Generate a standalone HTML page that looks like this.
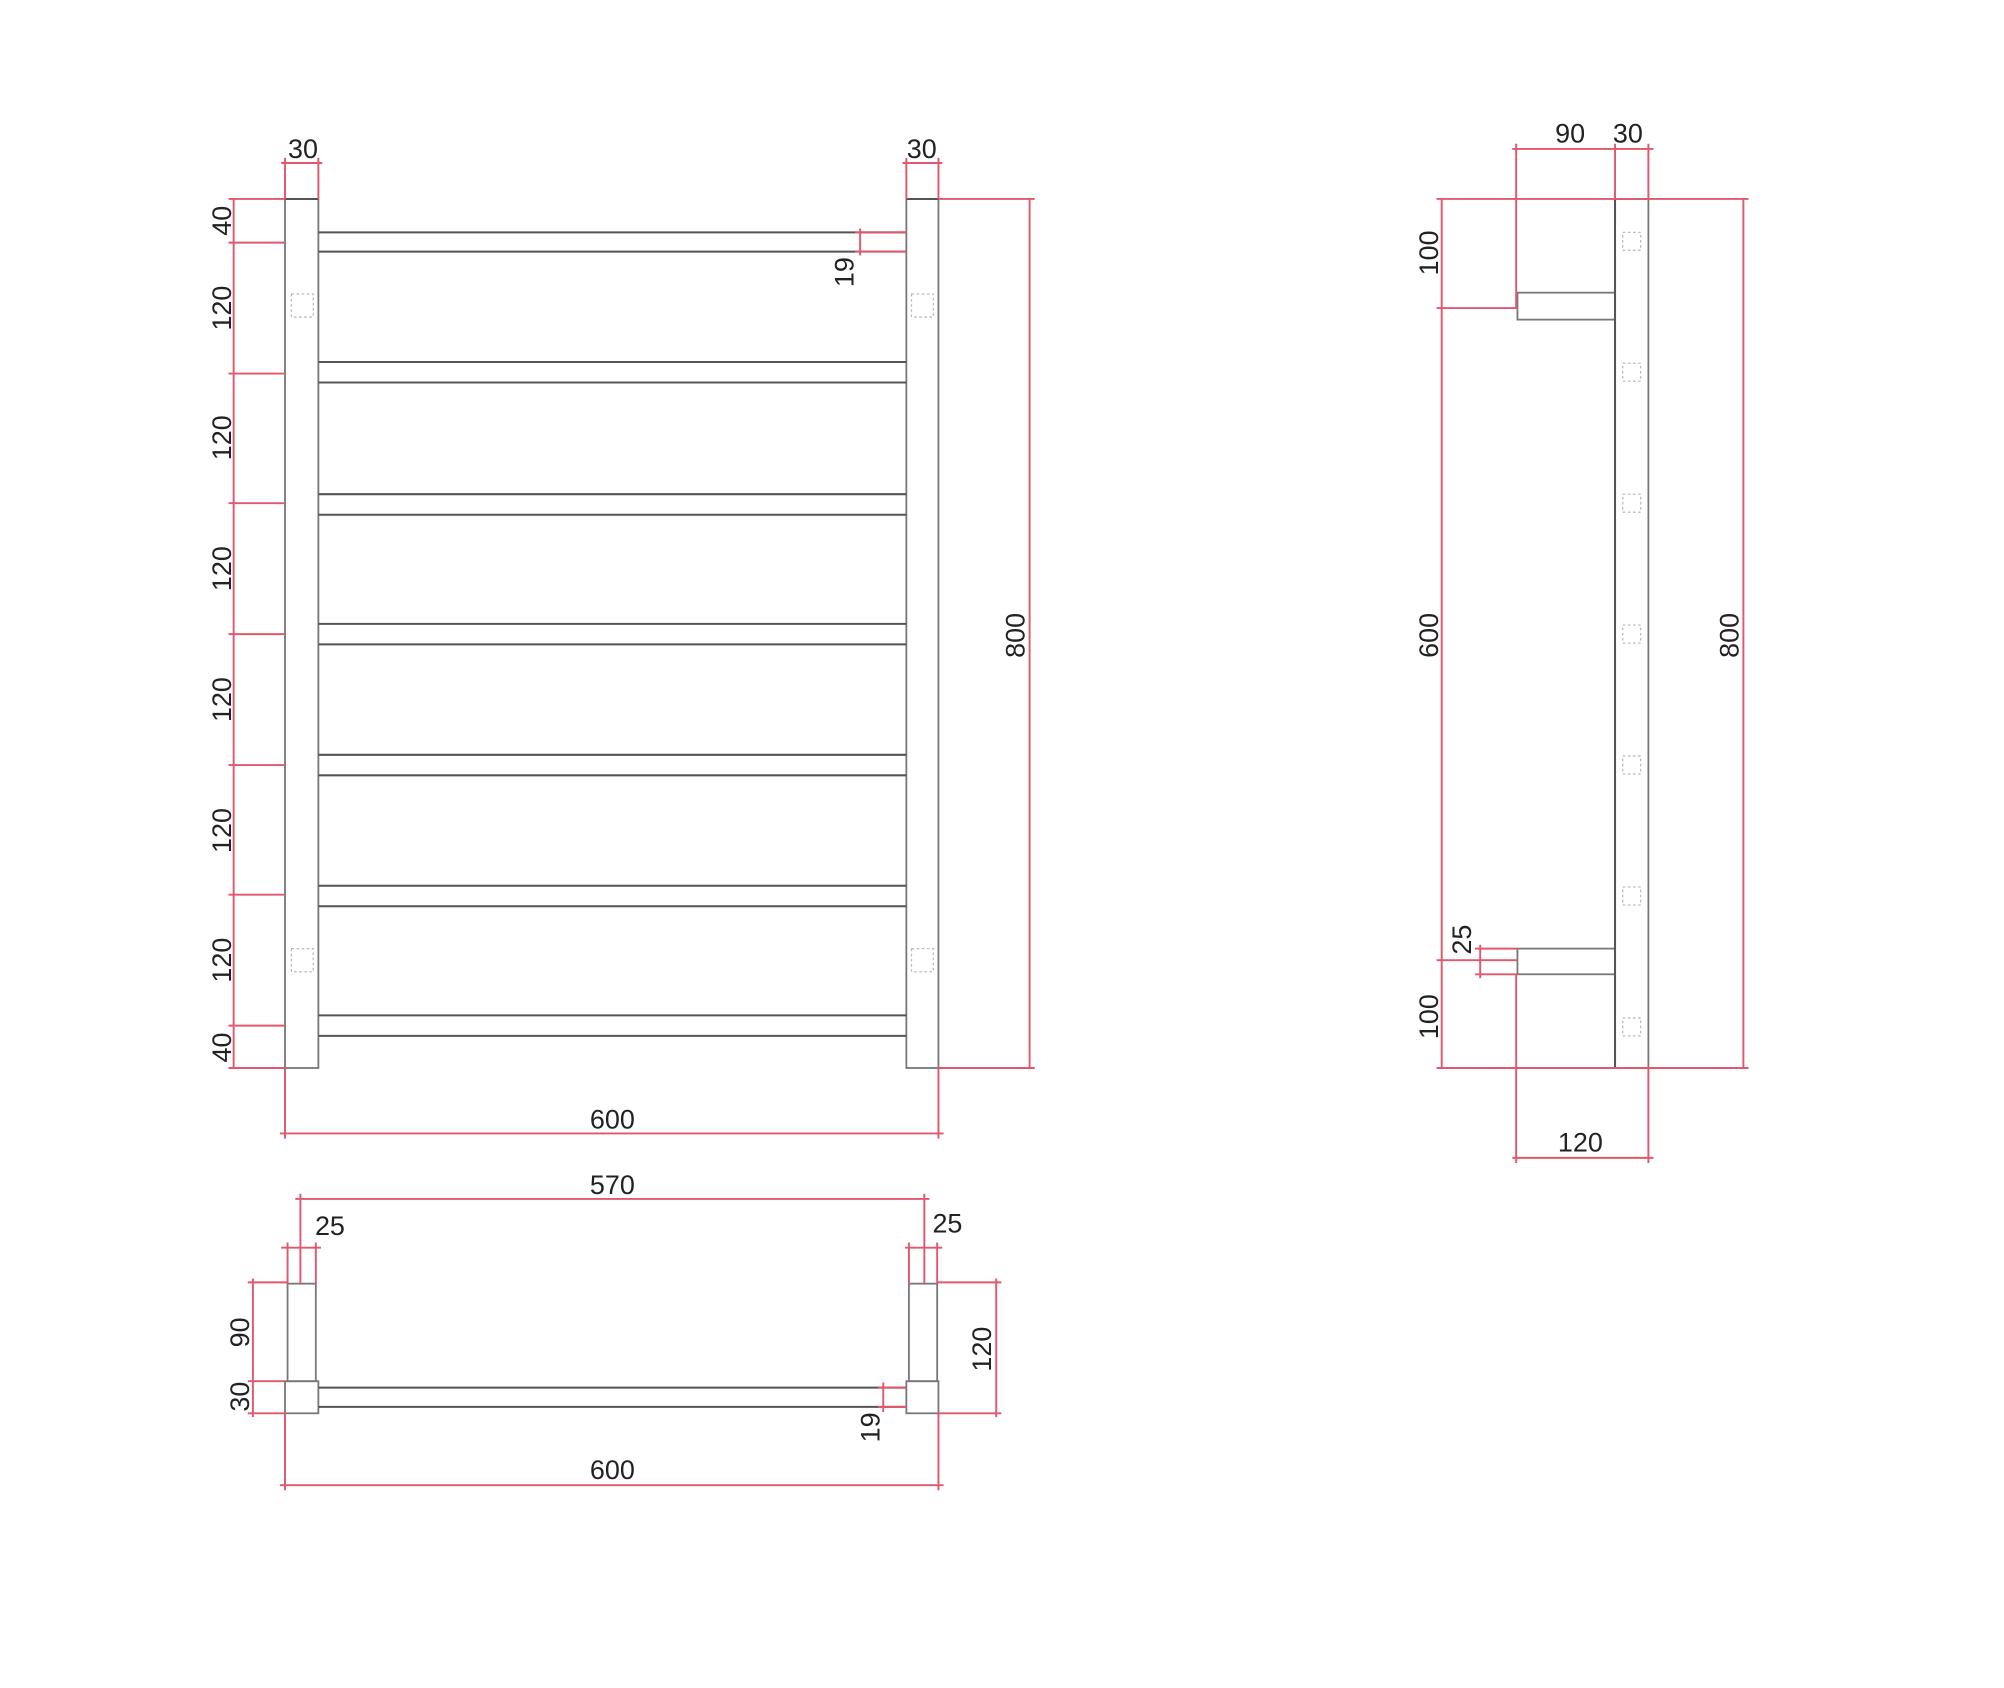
<!DOCTYPE html>
<html><head><meta charset="utf-8"><style>
html,body{margin:0;padding:0;background:#fff;}
svg{display:block;}
text{font-family:"Liberation Sans",sans-serif;font-size:21px;fill:#222;}
.r{stroke:#e2576c;stroke-width:1.5;fill:none;}
.g{stroke:#777;stroke-width:1.4;fill:none;}
.gd{stroke:#555;stroke-width:1.6;fill:none;}
.d{stroke:#bbb;stroke-width:1;fill:none;stroke-dasharray:2 2;}
.t{fill:#e2576c;}
</style></head><body>
<svg width="2004" height="1688" viewBox="0 0 1561 1315" preserveAspectRatio="none" xmlns="http://www.w3.org/2000/svg">
<!-- ===== FRONT VIEW ===== -->
<g class="g">
<rect x="222" y="155" width="26" height="677"/>
<rect x="706" y="155" width="25" height="677"/>
</g>
<g class="gd">
<line x1="248" y1="181" x2="706" y2="181"/><line x1="248" y1="196" x2="706" y2="196"/>
<line x1="248" y1="282" x2="706" y2="282"/><line x1="248" y1="298" x2="706" y2="298"/>
<line x1="248" y1="385" x2="706" y2="385"/><line x1="248" y1="401" x2="706" y2="401"/>
<line x1="248" y1="486" x2="706" y2="486"/><line x1="248" y1="502" x2="706" y2="502"/>
<line x1="248" y1="588" x2="706" y2="588"/><line x1="248" y1="604" x2="706" y2="604"/>
<line x1="248" y1="690" x2="706" y2="690"/><line x1="248" y1="706" x2="706" y2="706"/>
<line x1="248" y1="791" x2="706" y2="791"/><line x1="248" y1="807" x2="706" y2="807"/>
<line x1="222" y1="155" x2="248" y2="155"/><line x1="706" y1="155" x2="731" y2="155"/>
</g>
<g class="d">
<rect x="227" y="229" width="17" height="18"/><rect x="710" y="229" width="17" height="18"/>
<rect x="227" y="739" width="17" height="18"/><rect x="710" y="739" width="17" height="18"/>
</g>
<!-- left dims -->
<g class="r">
<line x1="182" y1="155" x2="182" y2="832"/>
<line x1="178" y1="155" x2="222" y2="155"/>
<line x1="178" y1="189" x2="222" y2="189"/>
<line x1="178" y1="291" x2="222" y2="291"/>
<line x1="178" y1="392" x2="222" y2="392"/>
<line x1="178" y1="494" x2="222" y2="494"/>
<line x1="178" y1="596" x2="222" y2="596"/>
<line x1="178" y1="697" x2="222" y2="697"/>
<line x1="178" y1="799" x2="222" y2="799"/>
<line x1="178" y1="832" x2="222" y2="832"/>
<!-- top 30s -->
<line x1="222" y1="123" x2="222" y2="155"/><line x1="248" y1="123" x2="248" y2="155"/><line x1="219" y1="127" x2="251" y2="127"/>
<line x1="706" y1="123" x2="706" y2="155"/><line x1="731" y1="123" x2="731" y2="155"/><line x1="703" y1="127" x2="734" y2="127"/>
<!-- 19 -->
<line x1="670" y1="178" x2="670" y2="199"/><line x1="666" y1="181" x2="706" y2="181"/><line x1="666" y1="196" x2="706" y2="196"/>
<!-- 800 -->
<line x1="802" y1="155" x2="802" y2="832"/><line x1="731" y1="155" x2="806" y2="155"/><line x1="731" y1="832" x2="806" y2="832"/>
<!-- 600 -->
<line x1="222" y1="832" x2="222" y2="887"/><line x1="731" y1="832" x2="731" y2="887"/><line x1="218" y1="883" x2="735" y2="883"/>
</g>
<text transform="translate(180,172) rotate(-90)" text-anchor="middle">40</text>
<text transform="translate(180,240) rotate(-90)" text-anchor="middle">120</text>
<text transform="translate(180,341) rotate(-90)" text-anchor="middle">120</text>
<text transform="translate(180,443) rotate(-90)" text-anchor="middle">120</text>
<text transform="translate(180,545) rotate(-90)" text-anchor="middle">120</text>
<text transform="translate(180,647) rotate(-90)" text-anchor="middle">120</text>
<text transform="translate(180,748) rotate(-90)" text-anchor="middle">120</text>
<text transform="translate(180,816) rotate(-90)" text-anchor="middle">40</text>
<text x="236" y="123" text-anchor="middle">30</text>
<text x="718" y="123" text-anchor="middle">30</text>
<text transform="translate(665,212) rotate(-90)" text-anchor="middle">19</text>
<text transform="translate(798,495) rotate(-90)" text-anchor="middle">800</text>
<text x="477" y="879" text-anchor="middle">600</text>

<!-- ===== PLAN VIEW ===== -->
<g class="g">
<rect x="224" y="1000" width="22" height="76"/>
<rect x="708" y="1000" width="22" height="76"/>
<rect x="222" y="1076" width="26" height="25"/>
<rect x="706" y="1076" width="25" height="25"/>
</g>
<g class="gd">
<line x1="248" y1="1081" x2="706" y2="1081"/><line x1="248" y1="1096" x2="706" y2="1096"/>
</g>
<g class="r">
<line x1="230" y1="934" x2="724" y2="934"/>
<line x1="234" y1="930" x2="234" y2="1000"/><line x1="720" y1="930" x2="720" y2="1000"/>
<line x1="219" y1="972" x2="250" y2="972"/>
<line x1="224" y1="968" x2="224" y2="1000"/><line x1="246" y1="968" x2="246" y2="1000"/>
<line x1="705" y1="972" x2="734" y2="972"/>
<line x1="708" y1="968" x2="708" y2="1000"/><line x1="730" y1="968" x2="730" y2="1000"/>
<line x1="197" y1="996" x2="197" y2="1104"/>
<line x1="193" y1="999" x2="224" y2="999"/><line x1="193" y1="1076" x2="222" y2="1076"/><line x1="193" y1="1101" x2="222" y2="1101"/>
<line x1="776" y1="996" x2="776" y2="1104"/>
<line x1="730" y1="999" x2="780" y2="999"/><line x1="731" y1="1101" x2="780" y2="1101"/>
<line x1="688" y1="1077" x2="688" y2="1100"/><line x1="684" y1="1081" x2="706" y2="1081"/><line x1="684" y1="1096" x2="706" y2="1096"/>
<line x1="222" y1="1101" x2="222" y2="1161"/><line x1="731" y1="1101" x2="731" y2="1161"/>
<line x1="218" y1="1157" x2="735" y2="1157"/>
</g>
<text x="477" y="930" text-anchor="middle">570</text>
<text x="257" y="962" text-anchor="middle">25</text>
<text x="738" y="960" text-anchor="middle">25</text>
<text transform="translate(194,1038) rotate(-90)" text-anchor="middle">90</text>
<text transform="translate(194,1088) rotate(-90)" text-anchor="middle">30</text>
<text transform="translate(772,1051) rotate(-90)" text-anchor="middle">120</text>
<text transform="translate(685,1112) rotate(-90)" text-anchor="middle">19</text>
<text x="477" y="1152" text-anchor="middle">600</text>

<!-- ===== SIDE VIEW ===== -->
<g class="g">
<rect x="1258" y="155" width="26" height="677"/>
<rect x="1182" y="228" width="76" height="21"/>
<rect x="1182" y="739" width="76" height="20"/>
</g>
<g class="gd"><line x1="1258" y1="155" x2="1258" y2="832"/></g>
<g class="d">
<rect x="1264" y="181" width="14" height="14"/>
<rect x="1264" y="283" width="14" height="14"/>
<rect x="1264" y="385" width="14" height="14"/>
<rect x="1264" y="487" width="14" height="14"/>
<rect x="1264" y="589" width="14" height="14"/>
<rect x="1264" y="691" width="14" height="14"/>
<rect x="1264" y="793" width="14" height="14"/>
</g>
<g class="r">
<line x1="1178" y1="116" x2="1288" y2="116"/>
<line x1="1181" y1="112" x2="1181" y2="240"/><line x1="1258" y1="112" x2="1258" y2="155"/><line x1="1284" y1="112" x2="1284" y2="155"/>
<line x1="1119" y1="155" x2="1362" y2="155"/>
<line x1="1123" y1="155" x2="1123" y2="832"/>
<line x1="1119" y1="240" x2="1182" y2="240"/>
<line x1="1119" y1="748" x2="1182" y2="748"/>
<line x1="1153" y1="736" x2="1153" y2="762"/><line x1="1149" y1="739" x2="1182" y2="739"/><line x1="1149" y1="759" x2="1182" y2="759"/>
<line x1="1119" y1="832" x2="1362" y2="832"/>
<line x1="1358" y1="155" x2="1358" y2="832"/>
<line x1="1181" y1="759" x2="1181" y2="906"/><line x1="1284" y1="832" x2="1284" y2="906"/>
<line x1="1178" y1="902" x2="1288" y2="902"/>
</g>
<text x="1223" y="111" text-anchor="middle">90</text>
<text x="1268" y="111" text-anchor="middle">30</text>
<text transform="translate(1120,197) rotate(-90)" text-anchor="middle">100</text>
<text transform="translate(1120,495) rotate(-90)" text-anchor="middle">600</text>
<text transform="translate(1120,792) rotate(-90)" text-anchor="middle">100</text>
<text transform="translate(1146,732) rotate(-90)" text-anchor="middle">25</text>
<text transform="translate(1354,495) rotate(-90)" text-anchor="middle">800</text>
<text x="1231" y="897" text-anchor="middle">120</text>
</svg>
</body></html>
